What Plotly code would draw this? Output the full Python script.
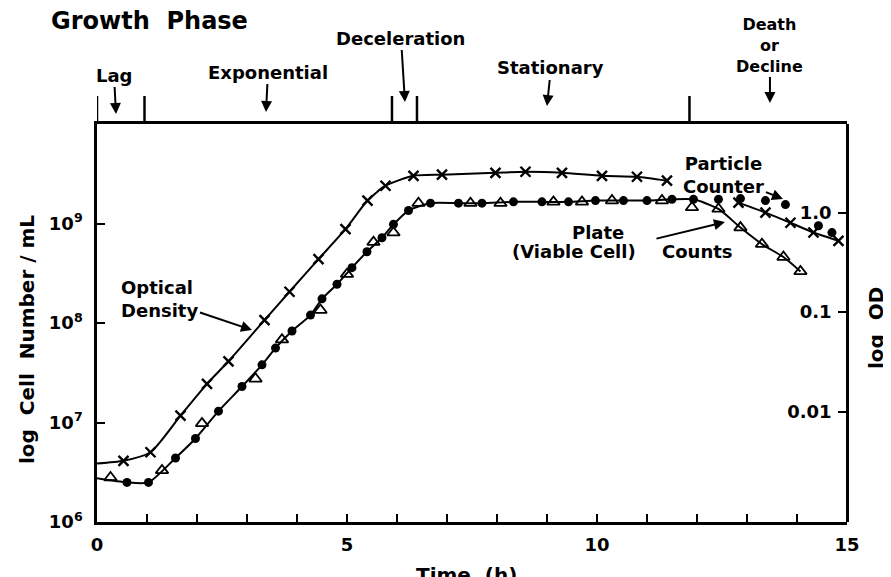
import plotly.graph_objects as go

# ---------------- data ----------------
# Optical density (x markers), right axis (OD)
od_time = [0.53, 1.07, 1.67, 2.2, 2.63, 3.35, 3.85, 4.43, 4.97, 5.41, 5.77, 6.33,
           6.9, 7.97, 8.57, 9.3, 10.1, 10.8, 11.4, 12.83, 13.37, 13.87, 14.33, 14.83]
od_value = [0.0032, 0.0039, 0.0091, 0.019, 0.032, 0.083, 0.16, 0.34, 0.68, 1.32, 1.86, 2.34,
            2.40, 2.51, 2.57, 2.51, 2.34, 2.29, 2.09, 1.26, 1.00, 0.79, 0.63, 0.52]
od_line_start = (0.0, 0.0030)
od_line_hidden = (11.4, 12.83)   # stretch of the OD curve hidden behind the "Counter" label

# Particle counter (filled circles), cells / mL
particle_time = [0.6, 1.03, 1.57, 1.97, 2.43, 2.9, 3.3, 3.57, 3.9, 4.27, 4.5, 4.8, 5.1,
                 5.4, 5.7, 5.93, 6.23, 6.67, 7.23, 7.7, 8.33, 8.9, 9.43, 9.97, 10.53,
                 11.0, 11.5, 11.93, 12.43, 12.87, 13.37, 13.77, 14.43, 14.7]
particle_count = [2.5e6, 2.5e6, 4.4e6, 6.9e6, 1.3e7, 2.3e7, 3.8e7, 5.6e7, 8.3e7, 1.2e8,
                  1.75e8, 2.45e8, 3.6e8, 5.2e8, 7.2e8, 9.8e8, 1.35e9, 1.6e9, 1.6e9, 1.6e9,
                  1.65e9, 1.65e9, 1.65e9, 1.7e9, 1.7e9, 1.7e9, 1.75e9, 1.75e9, 1.75e9,
                  1.78e9, 1.7e9, 1.55e9, 9.5e8, 8.1e8]

# Plate (viable cell) counts (open triangles), cells / mL
plate_time = [0.27, 1.3, 2.1, 3.17, 3.7, 4.47, 5.0, 5.53, 5.93, 6.43, 7.47, 8.07, 9.13,
              9.7, 10.3, 11.3, 11.9, 12.43, 12.87, 13.3, 13.73, 14.07]
plate_count = [2.8e6, 3.3e6, 9.8e6, 2.75e7, 6.8e7, 1.35e8, 3.1e8, 6.5e8, 8.1e8, 1.6e9,
               1.6e9, 1.6e9, 1.65e9, 1.65e9, 1.7e9, 1.7e9, 1.45e9, 1.4e9, 9.1e8, 6.2e8,
               4.6e8, 3.3e8]
count_line_start = (0.0, 2.75e6)
stationary_end = 11.95   # common curve follows circles until here, then the plate counts

# Axis ticks
x_tickvals = [0, 5, 10, 15]
x_ticktext = ["0", "5", "10", "15"]
y_tickvals = [1e6, 1e7, 1e8, 1e9]
y_ticktext = ["10<sup>6</sup>", "10<sup>7</sup>", "10<sup>8</sup>", "10<sup>9</sup>"]
od_tickvals = [0.01, 0.1, 1.0]
od_ticktext = ["0.01", "0.1", "1.0"]

# Growth phases
phase_bounds = [0.0, 0.95, 5.9, 6.4, 11.85]

# ---------------- figure ----------------
W, H = 891, 577
BODY = 8                      # default page margin of the html body
PL, PR, PT, PB = 97, 847, 124, 522   # wanted plot-area edges in the window
L, T = PL - BODY, PT - BODY
R, B = W + BODY - PR, H + BODY - PB
XS = (PR - PL) / 15.0


def ax_x(px):
    return (px - PL) / XS


def pap_y(py):
    return (PB - py) / (PB - PT)


def pap_x(px):
    return (px - PL) / (PR - PL)


FONT = "DejaVu Sans"
fig = go.Figure()

# common (particle / plate) curve
line_t = [count_line_start[0]] + [t for t in particle_time if t <= stationary_end] + \
         [t for t in plate_time if t > stationary_end + 0.3]
line_y = [count_line_start[1]] + [c for t, c in zip(particle_time, particle_count) if t <= stationary_end] + \
         [c for t, c in zip(plate_time, plate_count) if t > stationary_end + 0.3]
fig.add_trace(go.Scatter(x=line_t, y=line_y, mode="lines",
                         line=dict(color="black", width=2, shape="spline", smoothing=0.6),
                         showlegend=False, hoverinfo="skip"))
fig.add_trace(go.Scatter(x=particle_time, y=particle_count, mode="markers",
                         marker=dict(symbol="circle", size=9, color="black"),
                         showlegend=False))
fig.add_trace(go.Scatter(x=plate_time, y=plate_count, mode="markers",
                         marker=dict(symbol="triangle-up-open", size=11, color="black",
                                     line=dict(width=1.8, color="black")),
                         showlegend=False))

# optical density on right axis (two visible pieces of the curve)
od_line_t = [od_line_start[0]]
od_line_v = [od_line_start[1]]
for t, v in zip(od_time, od_value):
    if t == od_line_hidden[1]:
        od_line_t.append(None)
        od_line_v.append(None)
    od_line_t.append(t)
    od_line_v.append(v)
fig.add_trace(go.Scatter(x=od_line_t, y=od_line_v, mode="lines", yaxis="y2",
                         connectgaps=False,
                         line=dict(color="black", width=2, shape="spline", smoothing=0.6),
                         showlegend=False, hoverinfo="skip"))
fig.add_trace(go.Scatter(x=od_time, y=od_value, mode="markers", yaxis="y2",
                         marker=dict(symbol="x-thin", size=10, color="black",
                                     line=dict(width=2.4, color="black")),
                         showlegend=False))

ann = []


def label(t, px, py, size=18, tip=None, align="center"):
    """Text centred at (px, py); optional arrow from the text to tip=(px, py)."""
    d = dict(text=t, xref="x", yref="paper", align=align,
             font=dict(family=FONT, size=size, color="black", weight="bold"))
    if tip is None:
        d.update(x=ax_x(px), y=pap_y(py), showarrow=False, xanchor="center", yanchor="middle")
    else:
        d.update(x=ax_x(tip[0]), y=pap_y(tip[1]), ax=px - tip[0], ay=py - tip[1],
                 showarrow=True, arrowhead=2, arrowsize=1.1, arrowwidth=2,
                 arrowcolor="black", standoff=0)
    ann.append(d)


label("Growth  Phase", 149, 21, size=24)
label("Lag", 114, 75, tip=(116, 114))
label("Exponential", 268, 72, tip=(266, 112))
label("Deceleration", 401, 38, tip=(405, 102))
label("Stationary", 551, 68, tip=(547, 106))
label("Death<br>or<br>Decline", 770, 45, size=16, tip=(770, 103))

label("Optical<br>Density", 160, 299, align="left", tip=(252, 330))
label("Particle<br>Counter", 724, 175, tip=(783, 199))
label("Plate", 598, 232)
label("(Viable Cell)", 574, 251)
label("Counts", 698, 251)
ann.append(dict(text="", x=ax_x(725), y=pap_y(222), xref="x", yref="paper",
                ax=655 - 725, ay=239 - 222, showarrow=True, arrowhead=2, arrowsize=1.1,
                arrowwidth=2, arrowcolor="black", standoff=0, startstandoff=0))

# axis titles
ann.append(dict(text="log  Cell  Number / mL", x=pap_x(27), y=pap_y(340), xref="paper",
                yref="paper", showarrow=False, textangle=-90, xanchor="center",
                yanchor="middle", font=dict(family=FONT, size=20, color="black", weight="bold")))
ann.append(dict(text="log  OD", x=pap_x(876), y=pap_y(328), xref="paper", yref="paper",
                showarrow=False, textangle=-90, xanchor="center", yanchor="middle",
                font=dict(family=FONT, size=20, color="black", weight="bold")))
ann.append(dict(text="Time  (h)", x=ax_x(467), y=pap_y(561), xref="x", yref="paper",
                showarrow=False, xanchor="center", yanchor="top",
                font=dict(family=FONT, size=20, color="black", weight="bold")))

# phase boundary bars above the plot
shapes = [dict(type="line", xref="x", yref="paper", x0=b, x1=b, y0=pap_y(123), y1=pap_y(96),
               line=dict(color="black", width=2.5)) for b in phase_bounds]

fig.update_layout(
    width=W, height=H, autosize=False,
    margin=dict(l=L, r=R, t=T, b=B),
    paper_bgcolor="white", plot_bgcolor="white",
    font=dict(family=FONT, color="black", weight="bold"),
    annotations=ann, shapes=shapes, showlegend=False,
    xaxis=dict(range=[0, 15.001], tickmode="array", tickvals=x_tickvals, ticktext=x_ticktext,
               ticks="inside", ticklen=8, tickwidth=2, tickcolor="black",
               minor=dict(dtick=1, tick0=0, ticks="inside", ticklen=8, tickwidth=2,
                          tickcolor="black", showgrid=False),
               showline=True, linewidth=2.5, linecolor="black", mirror=True,
               showgrid=False, zeroline=False, ticklabelstandoff=5,
               tickfont=dict(family=FONT, size=18, color="black", weight="bold")),
    yaxis=dict(type="log", range=[6, 10], tickmode="array", tickvals=y_tickvals,
               ticktext=y_ticktext, ticks="inside", ticklen=8, tickwidth=2, tickcolor="black",
               showline=True, linewidth=2.5, linecolor="black", mirror=False,
               showgrid=False, zeroline=False, ticklabelstandoff=8,
               tickfont=dict(family=FONT, size=18, color="black", weight="bold")),
    # OD axis: drawn at the right edge, ticks and labels pointing into the plot
    yaxis2=dict(type="log", range=[-3.11, 0.89], overlaying="y", side="left",
                anchor="free", position=1.0,
                tickmode="array", tickvals=od_tickvals, ticktext=od_ticktext,
                ticks="outside", ticklen=8, tickwidth=2, tickcolor="black",
                ticklabelstandoff=3,
                showline=True, linewidth=2.5, linecolor="black",
                showgrid=False, zeroline=False,
                tickfont=dict(family=FONT, size=18, color="black", weight="bold")),
)

fig.write_html("out.html")
